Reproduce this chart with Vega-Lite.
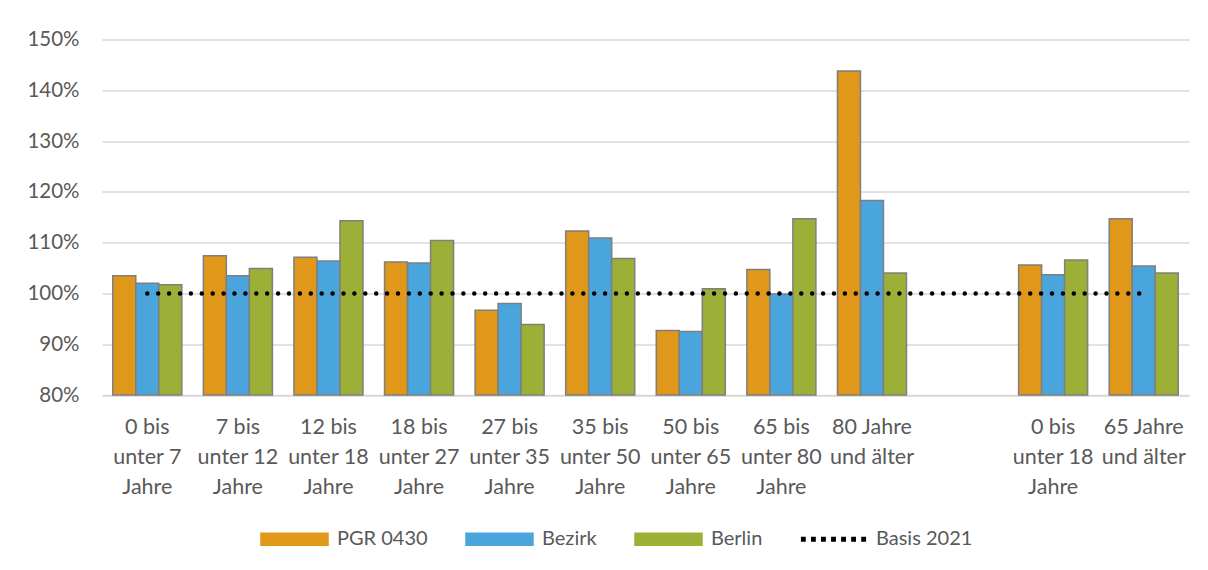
{
  "$schema": "https://vega.github.io/schema/vega-lite/v6.json",
  "width": 1087,
  "height": 355.5,
  "autosize": {"type": "none"},
  "padding": {"left": 102, "top": 39.5, "right": 19, "bottom": 175},
  "background": "white",
  "config": {"view": {"stroke": null}, "font": "Lato"},
  "datasets": {
    "bars": [
      {"group": "0 bis|unter 7|Jahre", "series": "PGR 0430", "value": 103.5},
      {"group": "0 bis|unter 7|Jahre", "series": "Bezirk", "value": 102.0},
      {"group": "0 bis|unter 7|Jahre", "series": "Berlin", "value": 101.7},
      {"group": "7 bis|unter 12|Jahre", "series": "PGR 0430", "value": 107.4},
      {"group": "7 bis|unter 12|Jahre", "series": "Bezirk", "value": 103.5},
      {"group": "7 bis|unter 12|Jahre", "series": "Berlin", "value": 104.9},
      {"group": "12 bis|unter 18|Jahre", "series": "PGR 0430", "value": 107.1},
      {"group": "12 bis|unter 18|Jahre", "series": "Bezirk", "value": 106.4},
      {"group": "12 bis|unter 18|Jahre", "series": "Berlin", "value": 114.3},
      {"group": "18 bis|unter 27|Jahre", "series": "PGR 0430", "value": 106.2},
      {"group": "18 bis|unter 27|Jahre", "series": "Bezirk", "value": 106.0},
      {"group": "18 bis|unter 27|Jahre", "series": "Berlin", "value": 110.4},
      {"group": "27 bis|unter 35|Jahre", "series": "PGR 0430", "value": 96.7},
      {"group": "27 bis|unter 35|Jahre", "series": "Bezirk", "value": 98.0},
      {"group": "27 bis|unter 35|Jahre", "series": "Berlin", "value": 93.9},
      {"group": "35 bis|unter 50|Jahre", "series": "PGR 0430", "value": 112.3},
      {"group": "35 bis|unter 50|Jahre", "series": "Bezirk", "value": 110.9},
      {"group": "35 bis|unter 50|Jahre", "series": "Berlin", "value": 106.9},
      {"group": "50 bis|unter 65|Jahre", "series": "PGR 0430", "value": 92.7},
      {"group": "50 bis|unter 65|Jahre", "series": "Bezirk", "value": 92.5},
      {"group": "50 bis|unter 65|Jahre", "series": "Berlin", "value": 100.9},
      {"group": "65 bis|unter 80|Jahre", "series": "PGR 0430", "value": 104.7},
      {"group": "65 bis|unter 80|Jahre", "series": "Bezirk", "value": 99.9},
      {"group": "65 bis|unter 80|Jahre", "series": "Berlin", "value": 114.7},
      {"group": "80 Jahre|und älter", "series": "PGR 0430", "value": 143.8},
      {"group": "80 Jahre|und älter", "series": "Bezirk", "value": 118.3},
      {"group": "80 Jahre|und älter", "series": "Berlin", "value": 104.0},
      {"group": "0 bis|unter 18|Jahre", "series": "PGR 0430", "value": 105.6},
      {"group": "0 bis|unter 18|Jahre", "series": "Bezirk", "value": 103.7},
      {"group": "0 bis|unter 18|Jahre", "series": "Berlin", "value": 106.6},
      {"group": "65 Jahre|und älter", "series": "PGR 0430", "value": 114.7},
      {"group": "65 Jahre|und älter", "series": "Bezirk", "value": 105.4},
      {"group": "65 Jahre|und älter", "series": "Berlin", "value": 104.0}
    ],
    "basis": [
      {"group": "0 bis|unter 7|Jahre", "value": 100},
      {"group": "7 bis|unter 12|Jahre", "value": 100},
      {"group": "12 bis|unter 18|Jahre", "value": 100},
      {"group": "18 bis|unter 27|Jahre", "value": 100},
      {"group": "27 bis|unter 35|Jahre", "value": 100},
      {"group": "35 bis|unter 50|Jahre", "value": 100},
      {"group": "50 bis|unter 65|Jahre", "value": 100},
      {"group": "65 bis|unter 80|Jahre", "value": 100},
      {"group": "80 Jahre|und älter", "value": 100},
      {"group": "gap", "value": 100},
      {"group": "0 bis|unter 18|Jahre", "value": 100},
      {"group": "65 Jahre|und älter", "value": 100}
    ]
  },
  "layer": [
    {
      "data": {"name": "bars"},
      "mark": {"type": "bar", "stroke": "#7F7F7F", "strokeWidth": 1.5},
      "encoding": {
        "x": {
          "field": "group", "type": "nominal", "sort": null,
          "scale": {
            "domain": ["0 bis|unter 7|Jahre", "7 bis|unter 12|Jahre", "12 bis|unter 18|Jahre", "18 bis|unter 27|Jahre", "27 bis|unter 35|Jahre", "35 bis|unter 50|Jahre", "50 bis|unter 65|Jahre", "65 bis|unter 80|Jahre", "80 Jahre|und älter", "gap", "0 bis|unter 18|Jahre", "65 Jahre|und älter"],
            "paddingInner": 0.238, "paddingOuter": 0.119
          },
          "axis": {
            "title": null, "labelAngle": 0, "ticks": false,
            "labelExpr": "datum.value == 'gap' ? '' : split(datum.value, '|')",
            "labelFontSize": 21.5, "labelColor": "#595959", "labelLineHeight": 30,
            "labelPadding": 21, "labelLimit": 0, "labelOverlap": false,
            "domainColor": "#D9D9D9", "domainWidth": 1.5
          }
        },
        "xOffset": {
          "field": "series", "type": "nominal", "sort": ["PGR 0430", "Bezirk", "Berlin"],
          "scale": {"paddingInner": 0, "paddingOuter": 0}
        },
        "y": {
          "field": "value", "type": "quantitative",
          "scale": {"domain": [80, 150], "zero": false, "nice": false},
          "axis": {
            "title": null, "values": [80, 90, 100, 110, 120, 130, 140, 150],
            "labelExpr": "datum.value + '%'", "ticks": false, "domain": false,
            "grid": true, "gridColor": "#D9D9D9", "gridWidth": 1.5,
            "labelFontSize": 20.5, "labelColor": "#595959", "labelPadding": 23
          }
        },
        "y2": {"datum": 80},
        "color": {
          "field": "series", "type": "nominal",
          "scale": {
            "domain": ["PGR 0430", "Bezirk", "Berlin", "Basis 2021"],
            "range": ["#DF981A", "#4BA5DD", "#9CB038", "#000000"]
          },
          "legend": {
            "title": null, "orient": "none", "direction": "horizontal",
            "legendX": 158, "legendY": 465,
            "padding": 0,
            "symbolType": "M-1,-0.18H1V0.18H-1Z",
            "symbolSize": 4489,
            "symbolOpacity": 1,
            "symbolStrokeColor": "#7F7F7F",
            "symbolStrokeWidth": 1.5,
            "labelFontSize": 20, "labelColor": "#595959", "labelOffset": 8,
            "columnPadding": 35,
            "encode": {
              "symbols": {
                "update": {
                  "shape": {"signal": "datum.value === 'Basis 2021' ? 'M-0.95,-0.05H-0.85V0.05H-0.95Z M-0.65,-0.05H-0.55V0.05H-0.65Z M-0.35,-0.05H-0.25V0.05H-0.35Z M-0.05,-0.05H0.05V0.05H-0.05Z M0.25,-0.05H0.35V0.05H0.25Z M0.55,-0.05H0.65V0.05H0.55Z M0.85,-0.05H0.95V0.05H0.85Z' : 'M-1,-0.18H1V0.18H-1Z'"},
                  "stroke": {"signal": "datum.value === 'Basis 2021' ? 'transparent' : '#7F7F7F'"},
                  "opacity": {"value": 1}
                }
              }
            }
          }
        }
      }
    },
    {
      "data": {"name": "basis"},
      "mark": {"type": "line", "strokeDash": [0, 10.9], "strokeCap": "round", "strokeWidth": 4.5},
      "encoding": {
        "x": {"field": "group", "type": "nominal", "sort": null},
        "y": {"field": "value", "type": "quantitative"},
        "color": {"datum": "Basis 2021", "legend": null}
      }
    }
  ]
}
